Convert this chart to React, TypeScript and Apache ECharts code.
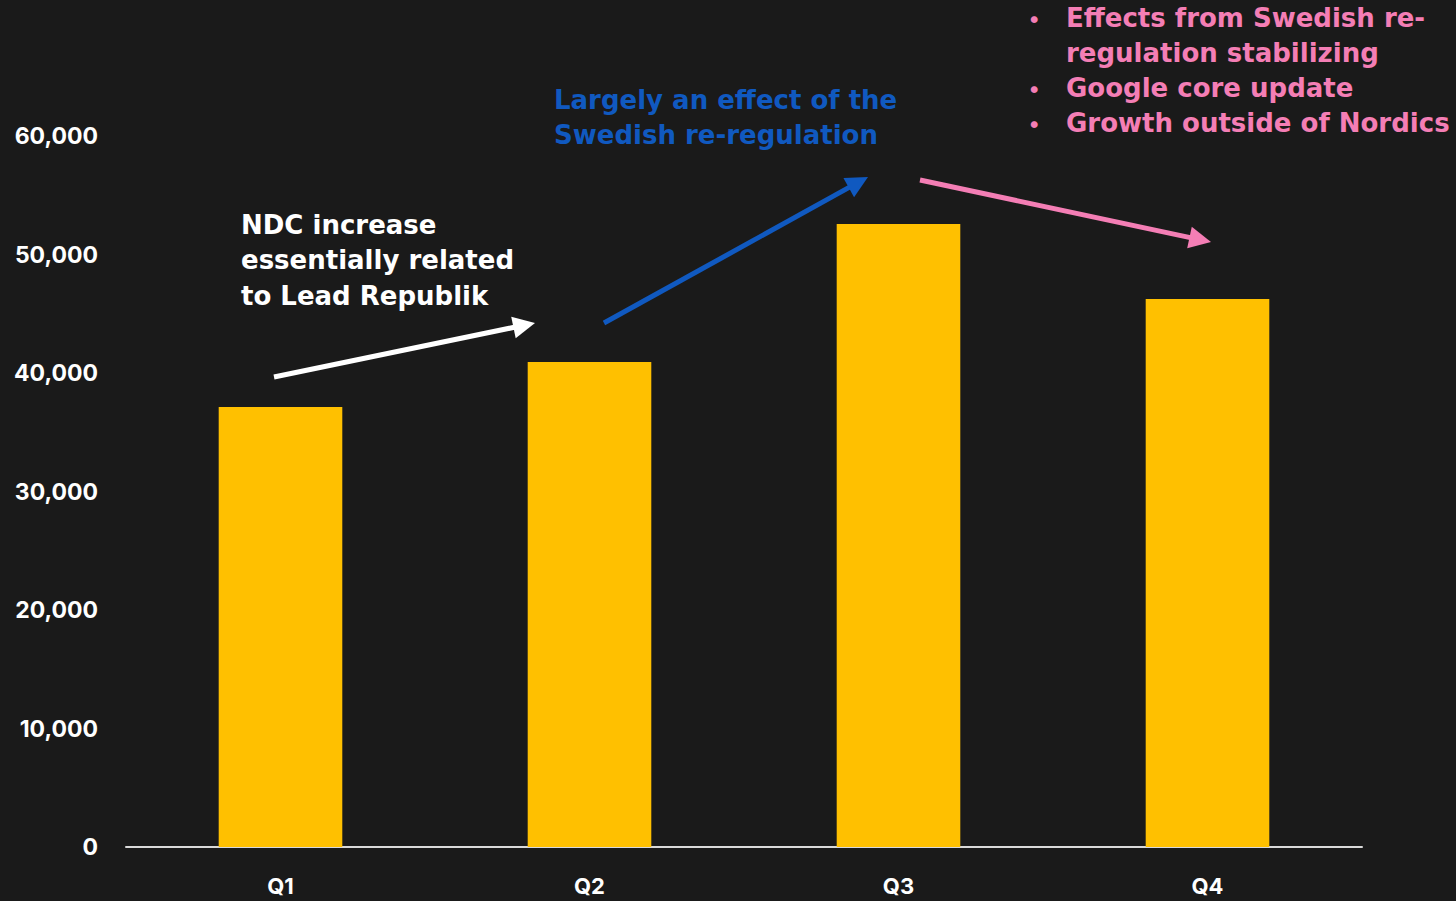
import React, { useEffect, useRef } from "react";
import * as echarts from "echarts";

const categories = ["Q1", "Q2", "Q3", "Q4"];
const ndcValues = [37130, 40930, 52570, 46240];
const yTicks = { min: 0, max: 60000, interval: 10000 };

const FONT = "Inter, 'Open Sans', sans-serif";
const NOTE_FONT = "'DejaVu Sans', Inter, sans-serif";
const BG = "#1a1a1a";
const BAR = "#ffc000";
const WHITE = "#ffffff";
const BLUE = "#1059c0";
const PINK = "#f47eb5";

function arrow(x1: number, y1: number, x2: number, y2: number, color: string, width: number, headLen: number, headHalf: number) {
  const dx = x2 - x1;
  const dy = y2 - y1;
  const len = Math.sqrt(dx * dx + dy * dy);
  const ux = dx / len;
  const uy = dy / len;
  const bx = x2 - ux * headLen;
  const by = y2 - uy * headLen;
  const px = -uy;
  const py = ux;
  return {
    type: "group",
    children: [
      {
        type: "line",
        shape: { x1, y1, x2: bx + ux * 2, y2: by + uy * 2 },
        style: { stroke: color, lineWidth: width },
      },
      {
        type: "polygon",
        shape: {
          points: [
            [x2, y2],
            [bx + px * headHalf, by + py * headHalf],
            [bx - px * headHalf, by - py * headHalf],
          ],
        },
        style: { fill: color },
      },
    ],
  };
}

function label(x: number, y: number, text: string, color: string, lineHeight = 35.5) {
  return {
    type: "text",
    x,
    y,
    style: {
      text,
      fill: color,
      fontSize: 26,
      fontWeight: 700,
      fontFamily: NOTE_FONT,
      lineHeight,
      textVerticalAlign: "top",
    },
  };
}

export default function App() {
  const ref = useRef<HTMLDivElement>(null);

  useEffect(() => {
    if (!ref.current) return;
    const chart = echarts.init(ref.current, undefined, { renderer: "svg" });
    const pinkLines = [
      { y: 0, text: "Effects from Swedish re-\nregulation stabilizing" },
      { y: 70, text: "Google core update" },
      { y: 105, text: "Growth outside of Nordics" },
    ];
    chart.setOption({
      animation: false,
      backgroundColor: BG,
      grid: { left: 126, right: 94, top: 136, bottom: 54 },
      xAxis: {
        type: "category",
        data: categories,
        axisLine: { lineStyle: { color: "#d9d9d9", width: 2 } },
        axisTick: { show: false },
        axisLabel: {
          color: WHITE,
          fontSize: 22,
          fontWeight: 700,
          fontFamily: FONT,
          margin: 28,
        },
      },
      yAxis: {
        type: "value",
        min: yTicks.min,
        max: yTicks.max,
        interval: yTicks.interval,
        splitLine: { show: false },
        axisLine: { show: false },
        axisTick: { show: false },
        axisLabel: {
          color: WHITE,
          fontSize: 23,
          fontWeight: 700,
          fontFamily: FONT,
          margin: 28,
          formatter: (v: number) => v.toLocaleString("en-US"),
        },
      },
      series: [
        {
          type: "bar",
          data: ndcValues,
          barWidth: "40%",
          itemStyle: { color: BAR },
        },
      ],
      graphic: [
        label(241, 207, "NDC increase\nessentially related\nto Lead Republik", WHITE),
        arrow(274, 377, 535, 323, WHITE, 5, 22, 11),
        label(554, 82, "Largely an effect of the\nSwedish re-regulation", BLUE),
        arrow(604, 323, 868, 177, BLUE, 5, 22, 11),
        ...pinkLines.map((l) => label(1066, l.y, l.text, PINK)),
        ...pinkLines.map((l) => ({
          type: "text",
          x: 1028,
          y: l.y,
          style: {
            text: "•",
            fill: PINK,
            fontSize: 22,
            fontFamily: FONT,
            lineHeight: 35.5,
            textVerticalAlign: "top",
          },
        })),
        arrow(920, 180, 1211, 242, PINK, 5, 22, 11),
      ],
    });
    return () => chart.dispose();
  }, []);

  return <div ref={ref} style={{ width: 1456, height: 901, position: "fixed", left: 0, top: 0 }} />;
}
